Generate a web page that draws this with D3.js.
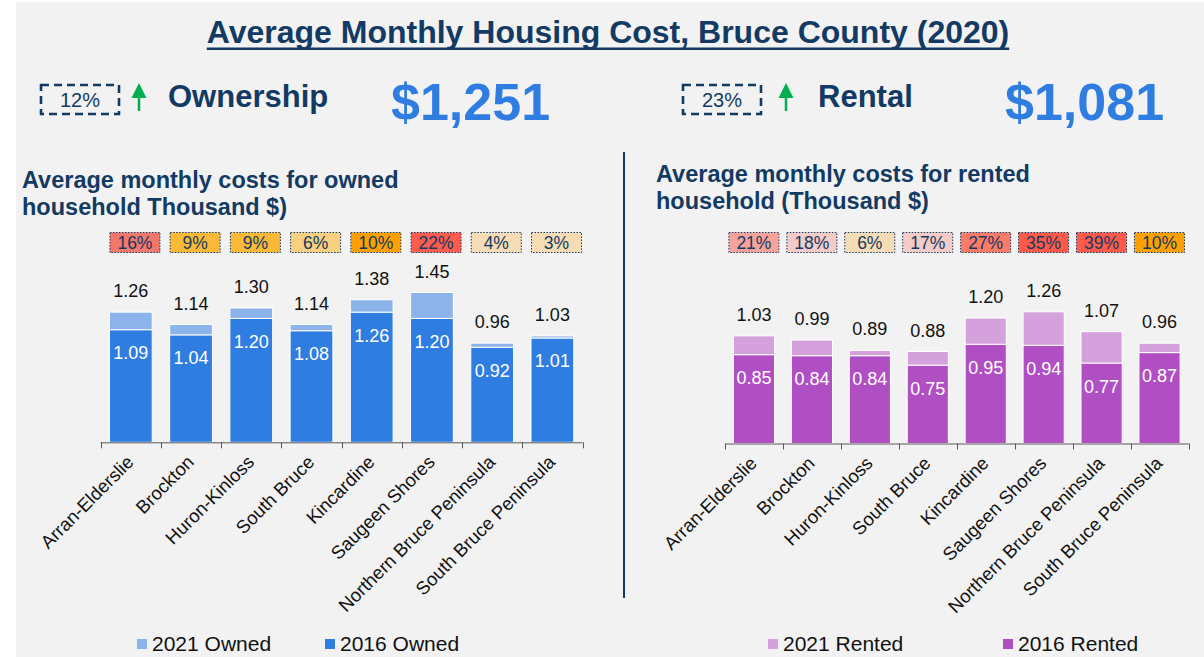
<!DOCTYPE html>
<html>
<head>
<meta charset="utf-8">
<script src="https://cdn.jsdelivr.net/npm/d3@7"></script>
<style>
  html, body { margin: 0; padding: 0; background: #ffffff; }
  svg { display: block; font-family: "Liberation Sans", Arial, sans-serif; }
</style>
</head>
<body>
<div id="chart"></div>
<script>
// data
var towns = ["Arran-Elderslie", "Brockton", "Huron-Kinloss", "South Bruce", "Kincardine",
             "Saugeen Shores", "Northern Bruce Peninsula", "South Bruce Peninsula"];

var owned2016 = [1.09, 1.04, 1.20, 1.08, 1.26, 1.20, 0.92, 1.01];
var owned2021 = [1.26, 1.14, 1.30, 1.14, 1.38, 1.45, 0.96, 1.03];
var ownedChange = [16, 9, 9, 6, 10, 22, 4, 3];

var rented2016 = [0.85, 0.84, 0.84, 0.75, 0.95, 0.94, 0.77, 0.87];
var rented2021 = [1.03, 0.99, 0.89, 0.88, 1.20, 1.26, 1.07, 0.96];
var rentedChange = [21, 18, 6, 17, 27, 35, 39, 10];

var summaryLabels = ["Ownership", "Rental"];
var summaryValues = [1251, 1081];
var summaryChange = [12, 23];

var navy = "#123a63";
var W = 1204, H = 657;

var svg = d3.select("#chart").append("svg")
  .attr("width", W)
  .attr("height", H);

// background (thin white border at left / top)
svg.append("rect").attr("width", W).attr("height", H).attr("fill", "#ffffff");
svg.append("rect").attr("x", 16).attr("y", 2).attr("width", W - 16).attr("height", H - 2).attr("fill", "#f2f2f2");

// title
var title = svg.append("text")
  .attr("x", 608).attr("y", 43)
  .attr("text-anchor", "middle")
  .style("font-size", "32px").style("font-weight", "bold")
  .attr("fill", navy)
  .text("Average Monthly Housing Cost, Bruce County (2020)");
var tb = title.node().getBBox();
svg.append("rect")
  .attr("x", tb.x).attr("y", 47.5)
  .attr("width", tb.width).attr("height", 2.5)
  .attr("fill", navy);

// header: change box, arrow, label, big value
var headers = [
  {box: 41, arrow: 139, label: 168, value: 391},
  {box: 683, arrow: 786, label: 818, value: 1005}
];
var fmt = d3.format(",");
headers.forEach(function(h, i) {
  svg.append("rect")
    .attr("x", h.box).attr("y", 85).attr("width", 78).attr("height", 29)
    .attr("fill", "none").attr("stroke", navy).attr("stroke-width", 2.6)
    .attr("stroke-dasharray", "8,5");
  svg.append("text")
    .attr("x", h.box + 39).attr("y", 107).attr("text-anchor", "middle")
    .style("font-size", "20px").attr("fill", navy)
    .text(summaryChange[i] + "%");
  svg.append("line")
    .attr("x1", h.arrow).attr("x2", h.arrow).attr("y1", 111).attr("y2", 95)
    .attr("stroke", "#00b050").attr("stroke-width", 2.5);
  svg.append("path")
    .attr("d", "M" + (h.arrow - 7.5) + ",98 L" + (h.arrow + 7.5) + ",98 L" + h.arrow + ",83 Z")
    .attr("fill", "#00b050");
  svg.append("text")
    .attr("x", h.label).attr("y", 107)
    .style("font-size", "31px").style("font-weight", "bold").attr("fill", navy)
    .text(summaryLabels[i]);
  svg.append("text")
    .attr("x", h.value).attr("y", 120)
    .style("font-size", "52px").style("font-weight", "bold").attr("fill", "#2f7de1")
    .text("$" + fmt(summaryValues[i]));
});

// divider
svg.append("line")
  .attr("x1", 624).attr("x2", 624).attr("y1", 152).attr("y2", 598)
  .attr("stroke", navy).attr("stroke-width", 2);

var panels = [
  {
    sub: ["Average monthly costs for owned", "household Thousand $)"],
    subX: 22, subY: 188,
    x0: 100.7, x1: 582.5, base: 442.3, perUnit: 103.3,
    v2016: owned2016, v2021: owned2021, change: ownedChange,
    boxColors: ["#f4776b", "#fbb937", "#fbb937", "#f9cf80", "#ffa000", "#ff5c4d", "#f6dcb4", "#f6dcb4"],
    boxShift: 0,
    c2016: "#2f7de1", c2021: "#8db4ea",
    legend: [{x: 137, label: "2021 Owned"}, {x: 325, label: "2016 Owned"}]
  },
  {
    sub: ["Average monthly costs for rented", "household (Thousand $)"],
    subX: 656, subY: 182,
    x0: 725, x1: 1188.5, base: 443.5, perUnit: 104.5,
    v2016: rented2016, v2021: rented2021, change: rentedChange,
    boxColors: ["#f7a39b", "#f5cbc7", "#f6dcb4", "#f5cbc7", "#fb7b68", "#ff5a4a", "#ff5a4a", "#ffa000"],
    boxShift: -5,
    c2016: "#b04fc4", c2021: "#d4a1dc",
    legend: [{x: 768, label: "2021 Rented"}, {x: 1003, label: "2016 Rented"}]
  }
];

panels.forEach(function(p) {
  var g = svg.append("g");

  // subtitle
  var st = g.append("text")
    .attr("x", p.subX).attr("y", p.subY)
    .style("font-size", "23.5px").style("font-weight", "bold").attr("fill", navy);
  st.append("tspan").attr("x", p.subX).attr("dy", 0).text(p.sub[0]);
  st.append("tspan").attr("x", p.subX).attr("dy", 27).text(p.sub[1]);

  var x = d3.scaleBand()
    .domain(towns)
    .range([p.x0, p.x1])
    .paddingInner(0.29)
    .paddingOuter(0.145);
  var y = d3.scaleLinear()
    .domain([0, 1])
    .range([p.base, p.base - p.perUnit]);

  var rows = towns.map(function(t, i) {
    return {town: t, a: p.v2016[i], b: p.v2021[i], ch: p.change[i], col: p.boxColors[i]};
  });

  // change boxes
  var boxes = g.selectAll(".chg").data(rows).enter().append("g");
  boxes.append("rect")
    .attr("x", function(d) { return x(d.town) + p.boxShift + 0.5; })
    .attr("y", 232.5).attr("width", 50).attr("height", 20)
    .attr("fill", function(d) { return d.col; })
    .attr("stroke", navy).attr("stroke-width", 1).attr("stroke-dasharray", "1.5,1.5");
  boxes.append("text")
    .attr("x", function(d) { return x(d.town) + p.boxShift + 25.5; })
    .attr("y", 248.5).attr("text-anchor", "middle")
    .style("font-size", "17.5px").attr("fill", navy)
    .text(function(d) { return d.ch + "%"; });

  // 2016 bars
  g.selectAll(".b16").data(rows).enter().append("rect")
    .attr("x", function(d) { return x(d.town); })
    .attr("width", x.bandwidth())
    .attr("y", function(d) { return y(d.a); })
    .attr("height", function(d) { return y(0) - y(d.a); })
    .attr("fill", p.c2016).attr("stroke", "#ffffff").attr("stroke-width", 1);

  // 2021 increment stacked on top
  g.selectAll(".b21").data(rows).enter().append("rect")
    .attr("x", function(d) { return x(d.town); })
    .attr("width", x.bandwidth())
    .attr("y", function(d) { return y(d.b); })
    .attr("height", function(d) { return y(d.a) - y(d.b); })
    .attr("fill", p.c2021).attr("stroke", "#ffffff").attr("stroke-width", 1);

  // labels
  g.selectAll(".l21").data(rows).enter().append("text")
    .attr("x", function(d) { return x(d.town) + x.bandwidth() / 2; })
    .attr("y", function(d) { return y(d.b) - 15; })
    .attr("text-anchor", "middle")
    .style("font-size", "18px").attr("fill", "#111111")
    .text(function(d) { return d.b.toFixed(2); });
  g.selectAll(".l16").data(rows).enter().append("text")
    .attr("x", function(d) { return x(d.town) + x.bandwidth() / 2; })
    .attr("y", function(d) { return y(d.a) + 29.5; })
    .attr("text-anchor", "middle")
    .style("font-size", "18px").attr("fill", "#ffffff")
    .text(function(d) { return d.a.toFixed(2); });

  // axis line with ticks at band boundaries
  var step = x.step();
  var ax = g.append("g").attr("stroke", "#595959").attr("stroke-width", 1);
  ax.append("line")
    .attr("x1", p.x0).attr("x2", p.x1).attr("y1", p.base + 0.5).attr("y2", p.base + 0.5);
  d3.range(towns.length + 1).forEach(function(i) {
    var tx = Math.round(p.x0 + i * step) + 0.5;
    ax.append("line").attr("x1", tx).attr("x2", tx).attr("y1", p.base).attr("y2", p.base + 6);
  });

  // rotated category labels
  g.selectAll(".cat").data(towns).enter().append("text")
    .attr("transform", function(t) {
      return "translate(" + (x(t) + x.bandwidth() / 2 + 4) + "," + (p.base + 21) + ") rotate(-45)";
    })
    .attr("text-anchor", "end")
    .style("font-size", "18.5px").attr("fill", "#111111")
    .text(function(t) { return t; });

  // legend
  var colors = [p.c2021, p.c2016];
  p.legend.forEach(function(l, i) {
    g.append("rect").attr("x", l.x).attr("y", 639).attr("width", 10).attr("height", 10)
      .attr("fill", colors[i]);
    g.append("text").attr("x", l.x + 15).attr("y", 651)
      .style("font-size", "21px").attr("fill", "#111111").text(l.label);
  });
});
</script>
</body>
</html>
